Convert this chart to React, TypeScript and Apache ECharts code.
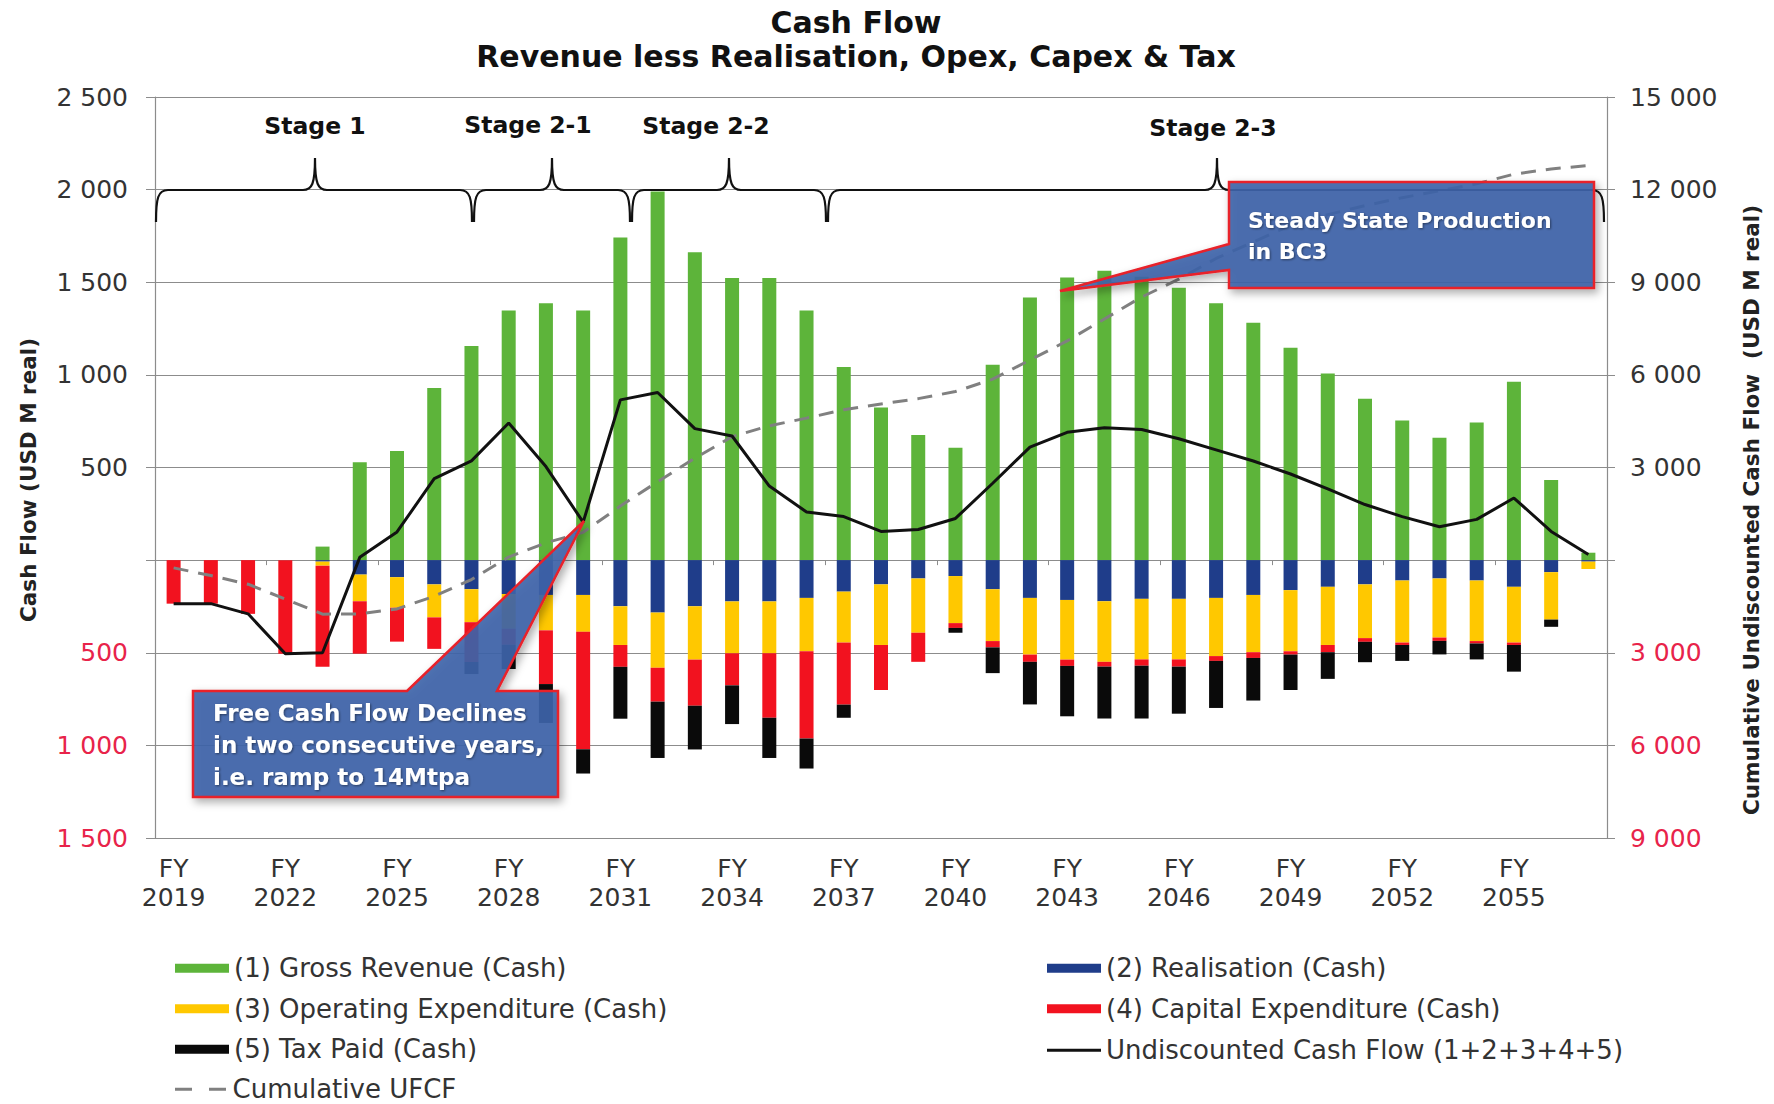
import { useEffect, useRef } from 'react';
import * as echarts from 'echarts';

// ---------------- data ----------------
const categories = [
  'FY2019', 'FY2020', 'FY2021', 'FY2022', 'FY2023', 'FY2024', 'FY2025', 'FY2026', 'FY2027', 'FY2028',
  'FY2029', 'FY2030', 'FY2031', 'FY2032', 'FY2033', 'FY2034', 'FY2035', 'FY2036', 'FY2037', 'FY2038',
  'FY2039', 'FY2040', 'FY2041', 'FY2042', 'FY2043', 'FY2044', 'FY2045', 'FY2046', 'FY2047', 'FY2048',
  'FY2049', 'FY2050', 'FY2051', 'FY2052', 'FY2053', 'FY2054', 'FY2055', 'FY2056', 'FY2057',
];

const grossRevenue = [
  0, 0, 0, 0, 73, 528, 589, 929, 1156, 1347,
  1387, 1348, 1741, 1990, 1662, 1523, 1523, 1348, 1042, 824,
  675, 607, 1054, 1418, 1526, 1562, 1530, 1470, 1387, 1282,
  1146, 1007, 871, 754, 660, 743, 963, 432, 40,
];
const realisation = [
  0, 0, 0, 0, -8, -78, -92, -131, -157, -183,
  -188, -188, -249, -283, -249, -223, -223, -204, -170, -131,
  -99, -86, -157, -204, -215, -222, -209, -209, -204, -188,
  -162, -144, -131, -110, -99, -110, -144, -65, -8,
];
const operatingExpenditure = [
  0, 0, 0, 0, -22, -144, -165, -178, -178, -188,
  -191, -199, -209, -298, -288, -280, -280, -288, -275, -327,
  -293, -254, -280, -306, -322, -327, -327, -327, -314, -309,
  -330, -314, -290, -335, -319, -327, -301, -256, -40,
];
const capitalExpenditure = [
  -235, -235, -290, -505, -545, -283, -183, -170, -215, -86,
  -290, -634, -118, -183, -249, -173, -348, -471, -335, -243,
  -157, -26, -34, -39, -34, -26, -34, -39, -26, -31,
  -18, -39, -20, -13, -18, -13, -13, 0, 0,
];
const taxPaid = [
  0, 0, 0, 0, 0, 0, 0, 0, -65, -131,
  -210, -131, -280, -304, -236, -209, -217, -162, -71, 0,
  0, -26, -139, -230, -272, -280, -285, -254, -254, -230,
  -191, -144, -110, -86, -73, -86, -144, -39, 0,
];
const undiscountedCashFlow = [
  -235, -235, -290, -505, -500, 15, 152, 440, 536, 740,
  505, 205, 865, 905, 710, 670, 400, 260, 235, 155,
  165, 225, 415, 610, 690, 715, 705, 655, 595, 535,
  465, 385, 300, 235, 180, 220, 335, 155, 30,
];
const cumulativeUFCF = [
  -250, -500, -780, -1260, -1750, -1740, -1580, -1170, -630, 100,
  560, 900, 1750, 2540, 3300, 4000, 4350, 4600, 4870, 5060,
  5230, 5460, 5860, 6480, 7100, 7810, 8520, 9100, 9770, 10300,
  10850, 11190, 11480, 11740, 11960, 12190, 12500, 12670, 12780,
];

const leftAxisRange = { min: -1500, max: 2500, interval: 500 };
const rightAxisRange = { min: -9000, max: 15000, interval: 3000 };

const seriesNames = {
  rev: '(1) Gross Revenue (Cash)',
  real: '(2) Realisation (Cash)',
  opex: '(3) Operating Expenditure (Cash)',
  capex: '(4) Capital Expenditure (Cash)',
  tax: '(5) Tax Paid (Cash)',
  ucf: 'Undiscounted Cash Flow (1+2+3+4+5)',
  cum: 'Cumulative UFCF',
};

const stageLabels = ['Stage 1', 'Stage 2-1', 'Stage 2-2', 'Stage 2-3'];

// ---------------- layout / style ----------------
const FONT = '"DejaVu Sans", "Liberation Sans", sans-serif';
const GRID = { left: 155, right: 167, top: 97, bottom: 266 };
const COLORS = {
  rev: '#5db43a',
  real: '#1f3d8a',
  opex: '#ffc800',
  capex: '#f2121f',
  tax: '#0a0a0a',
  ucf: '#111111',
  cum: '#808080',
  grid: '#8c8c8c',
  neg: '#e8234a',
  text: '#333333',
};

// brace layout in pixels: [start, peak, end]
const braceLayout = [
  [156, 315, 472],
  [474, 552, 630],
  [632, 729, 826],
  [828, 1217, 1604],
];
const stageLabelPos = [
  [315, 126],
  [528, 125],
  [706, 126],
  [1213, 128],
];
const BRACE_Y = 190;

function bracePath(x1: number, xp: number, x2: number, y0: number, drop: number, rise: number) {
  return (
    `M${x1} ${y0 + drop} C${x1} ${y0 + 8} ${x1 + 2} ${y0} ${x1 + 12} ${y0} ` +
    `L${xp - 12} ${y0} C${xp - 3} ${y0} ${xp} ${y0 - 6} ${xp} ${y0 - rise} ` +
    `C${xp} ${y0 - 6} ${xp + 3} ${y0} ${xp + 12} ${y0} ` +
    `L${x2 - 12} ${y0} C${x2 - 2} ${y0} ${x2} ${y0 + 8} ${x2} ${y0 + drop}`
  );
}

braceLayout.forEach(([a, p, b], i) => {
  echarts.graphic.registerShape(
    'stageBrace' + i,
    echarts.graphic.extendPath(bracePath(a, p, b, BRACE_Y, 32, 32), {}) as any
  );
});

function fmtThousands(v: number) {
  const a = Math.abs(v);
  if (a >= 1000) {
    return `${Math.floor(a / 1000)} ${String(a % 1000).padStart(3, '0')}`;
  }
  return String(a);
}

const axisLabelRich = {
  pos: { color: COLORS.text, fontSize: 25, fontFamily: FONT },
  neg: { color: COLORS.neg, fontSize: 25, fontFamily: FONT },
};
const axisFormatter = (v: number) =>
  v === 0 ? '' : v < 0 ? `{neg|${fmtThousands(v)}}` : `{pos|${fmtThousands(v)}}`;

function buildOption(): any {
  const barBase = {
    type: 'bar',
    stack: 'cash',
    barWidth: 14,
    z: 2,
  };

  const calloutStyle = {
    fill: 'rgba(62,100,170,0.9)',
    stroke: '#e8202a',
    lineWidth: 2.5,
    shadowBlur: 8,
    shadowColor: 'rgba(0,0,0,0.35)',
    shadowOffsetX: 3,
    shadowOffsetY: 4,
  };
  const calloutText = {
    fill: '#ffffff',
    fontSize: 23,
    fontWeight: 'bold',
    fontFamily: FONT,
    align: 'left',
    verticalAlign: 'top',
    textShadowColor: 'rgba(0,0,0,0.45)',
    textShadowBlur: 2,
    textShadowOffsetX: 1,
    textShadowOffsetY: 1,
  };

  const graphics: any[] = [
    {
      type: 'text',
      x: 856,
      y: 5,
      z: 60,
      style: {
        text: 'Cash Flow\nRevenue less Realisation, Opex, Capex & Tax',
        fontSize: 30,
        fontWeight: 'bold',
        fontFamily: FONT,
        lineHeight: 34,
        fill: '#111',
        align: 'center',
        verticalAlign: 'top',
      },
    },
    {
      type: 'text',
      x: 28,
      y: 480,
      rotation: Math.PI / 2,
      z: 60,
      style: {
        text: 'Cash Flow (USD M real)',
        fontSize: 21.5,
        fontWeight: 'bold',
        fontFamily: FONT,
        fill: '#222',
        align: 'center',
        verticalAlign: 'middle',
      },
    },
    {
      type: 'text',
      x: 1751,
      y: 510,
      rotation: Math.PI / 2,
      z: 60,
      style: {
        text: 'Cumulative Undiscounted Cash Flow  (USD M real)',
        fontSize: 21.5,
        fontWeight: 'bold',
        fontFamily: FONT,
        fill: '#222',
        align: 'center',
        verticalAlign: 'middle',
      },
    },
  ];

  braceLayout.forEach((_, i) => {
    graphics.push({
      type: 'stageBrace' + i,
      x: 0,
      y: 0,
      z: 40,
      style: { stroke: '#111', lineWidth: 2.2, fill: 'none' },
    });
    graphics.push({
      type: 'text',
      x: stageLabelPos[i][0],
      y: stageLabelPos[i][1],
      z: 40,
      style: {
        text: stageLabels[i],
        fontSize: 23.5,
        fontWeight: 'bold',
        fontFamily: FONT,
        fill: '#111',
        align: 'center',
        verticalAlign: 'middle',
      },
    });
  });

  // Callout 1
  graphics.push({
    type: 'polygon',
    z: 50,
    shape: {
      points: [
        [193, 691], [407, 691], [584, 521], [497, 691], [558, 691], [558, 797], [193, 797],
      ],
    },
    style: calloutStyle,
  });
  graphics.push({
    type: 'text',
    x: 213,
    y: 697,
    z: 51,
    style: {
      ...calloutText,
      text: 'Free Cash Flow Declines\nin two consecutive years,\ni.e. ramp to 14Mtpa',
      lineHeight: 32,
    },
  });

  // Callout 2
  graphics.push({
    type: 'polygon',
    z: 50,
    shape: {
      points: [
        [1229, 182], [1594, 182], [1594, 288], [1229, 288], [1229, 270], [1060, 291], [1229, 244],
      ],
    },
    style: calloutStyle,
  });
  graphics.push({
    type: 'text',
    x: 1248,
    y: 205,
    z: 51,
    style: {
      ...calloutText,
      fontSize: 22,
      text: 'Steady State Production\nin BC3',
      lineHeight: 31,
    },
  });

  const legendCommon = {
    orient: 'vertical',
    itemWidth: 54,
    itemHeight: 9,
    itemGap: 12,
    padding: 0,
    height: 200,
    selectedMode: false,
    textStyle: { fontFamily: FONT, fontSize: 26, color: COLORS.text, lineHeight: 28.5 },
  };

  return {
    animation: false,
    backgroundColor: '#ffffff',
    textStyle: { fontFamily: FONT },
    grid: { ...GRID, containLabel: false, outerBoundsMode: 'none' },
    legend: [
      {
        ...legendCommon,
        left: 175,
        top: 954,
        data: [
          { name: seriesNames.rev, icon: 'rect' },
          { name: seriesNames.opex, icon: 'rect' },
          { name: seriesNames.tax, icon: 'rect' },
        ],
      },
      {
        ...legendCommon,
        left: 175,
        top: 1075,
        itemHeight: 3,
        data: [{ name: seriesNames.cum, icon: 'path://M0 0h17v3H0z M34 0h17v3H34z' }],
      },
      {
        ...legendCommon,
        left: 1047,
        top: 954,
        data: [
          { name: seriesNames.real, icon: 'rect' },
          { name: seriesNames.capex, icon: 'rect' },
        ],
      },
      {
        ...legendCommon,
        left: 1047,
        top: 1036,
        itemHeight: 3,
        data: [{ name: seriesNames.ucf, icon: 'rect' }],
      },
    ],
    xAxis: [
      {
        type: 'category',
        data: categories,
        position: 'bottom',
        boundaryGap: true,
        axisLine: { show: true, onZero: false, lineStyle: { color: COLORS.grid, width: 1.2 } },
        axisTick: { show: false },
        splitLine: { show: false },
        axisLabel: {
          interval: 2,
          margin: 16,
          color: COLORS.text,
          fontSize: 25,
          lineHeight: 29,
          fontFamily: FONT,
          formatter: (v: string) => v.replace('FY', 'FY\n'),
        },
      },
      {
        type: 'category',
        data: categories,
        position: 'bottom',
        boundaryGap: true,
        axisLine: { show: true, onZero: true, lineStyle: { color: COLORS.grid, width: 1.2 } },
        axisTick: { show: true, interval: 2, length: 5, lineStyle: { color: COLORS.grid } },
        axisLabel: { show: false },
        splitLine: { show: false },
      },
    ],
    yAxis: [
      {
        type: 'value',
        position: 'left',
        ...leftAxisRange,
        axisLine: { show: true, lineStyle: { color: COLORS.grid, width: 1.2 } },
        axisTick: { show: true, length: 9, lineStyle: { color: COLORS.grid } },
        splitLine: { show: true, lineStyle: { color: COLORS.grid, width: 1.2 } },
        axisLabel: { margin: 27, formatter: axisFormatter, rich: axisLabelRich },
      },
      {
        type: 'value',
        position: 'right',
        ...rightAxisRange,
        axisLine: { show: true, lineStyle: { color: COLORS.grid, width: 1.2 } },
        axisTick: { show: true, length: 8, lineStyle: { color: COLORS.grid } },
        splitLine: { show: false },
        axisLabel: { margin: 23, formatter: axisFormatter, rich: axisLabelRich },
      },
    ],
    series: [
      { ...barBase, name: seriesNames.rev, data: grossRevenue, itemStyle: { color: COLORS.rev } },
      { ...barBase, name: seriesNames.real, data: realisation, itemStyle: { color: COLORS.real } },
      { ...barBase, name: seriesNames.opex, data: operatingExpenditure, itemStyle: { color: COLORS.opex } },
      { ...barBase, name: seriesNames.capex, data: capitalExpenditure, itemStyle: { color: COLORS.capex } },
      { ...barBase, name: seriesNames.tax, data: taxPaid, itemStyle: { color: COLORS.tax } },
      {
        type: 'line',
        name: seriesNames.cum,
        yAxisIndex: 1,
        data: cumulativeUFCF,
        symbol: 'none',
        showSymbol: false,
        z: 3,
        itemStyle: { color: COLORS.cum },
        lineStyle: { color: COLORS.cum, width: 3, type: [15, 10] },
      },
      {
        type: 'line',
        name: seriesNames.ucf,
        data: undiscountedCashFlow,
        symbol: 'none',
        showSymbol: false,
        z: 4,
        itemStyle: { color: COLORS.ucf },
        lineStyle: { color: COLORS.ucf, width: 3 },
      },
    ],
    graphic: graphics,
  };
}

export default function App() {
  const ref = useRef<HTMLDivElement>(null);
  useEffect(() => {
    if (!ref.current) return;
    const chart = echarts.init(ref.current, null, { renderer: 'svg' });
    chart.setOption(buildOption());
    return () => {
      chart.dispose();
    };
  }, []);
  return (
    <div
      ref={ref}
      style={{ position: 'fixed', left: 0, top: 0, width: 1774, height: 1104, background: '#fff' }}
    />
  );
}
